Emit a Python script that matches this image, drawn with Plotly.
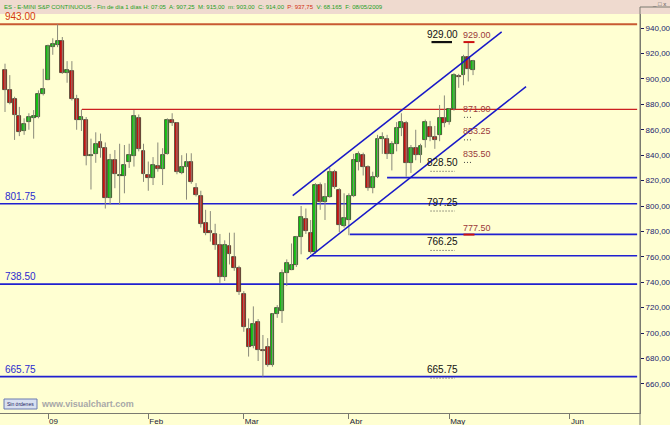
import plotly.graph_objects as go

# ---------------- data ----------------
dates = ["18/12","19/12","22/12","23/12","24/12","26/12","29/12","30/12","31/12",
         "02/01","05/01","06/01","07/01","08/01","09/01","12/01","13/01","14/01","15/01","16/01",
         "19/01","20/01","21/01","22/01","23/01","26/01","27/01","28/01","29/01","30/01",
         "02/02","03/02","04/02","05/02","06/02","09/02","10/02","11/02","12/02","13/02",
         "16/02","17/02","18/02","19/02","20/02","23/02","24/02","25/02","26/02","27/02",
         "02/03","03/03","04/03","05/03","06/03","09/03","10/03","11/03","12/03","13/03",
         "16/03","17/03","18/03","19/03","20/03","23/03","24/03","25/03","26/03","27/03",
         "30/03","31/03","01/04","02/04","03/04","06/04","07/04","08/04","09/04","13/04",
         "14/04","15/04","16/04","17/04","20/04","21/04","22/04","23/04","24/04","27/04",
         "28/04","29/04","30/04","01/05","04/05","05/05","06/05","07/05","08/05"]
opens = [907,891,884,871,859,866,869,870,888,
         899.5,925,927,930,905,906.5,884.5,868,868,839,841,
         850,846,806,836.5,824,824,835,839.5,869,843,
         824.5,822,831.5,829.5,841,868,865,826,831,834.5,
         814,808,786.5,780.5,778,769,744.5,768.5,760,751.5,
         731,703.5,690,709,687,689,675,715,717,747.5,
         750,753.5,776,790,779,764,816.5,803.5,807,827,
         812.5,784,789,808,834.5,840,831,814,823,853,
         853,841,849,861,865,834,846,840,852,862,
         854,856,869,866,876,902.5,903,917,907.25]
highs = [912,903,886,878,869,873,875.5,891,908,
         927,932,943,933,914,914,887.5,876,870,853,858,
         857,850,841,844,849,848,849,875.5,872,849,
         835,838.5,850,845.5,869,873,866,840,841.5,841.5,
         818,812,797,796,786,778,773,779,779,753,
         733,711.5,721,711,698.5,696,715.5,722,750,758,
         770.5,776.5,800,798,789,818,818.5,818,830,828.5,
         814,810,810,841,843,842,832,827,856,858,
         856,851,866,873,867,848,860,849,868,867,
         863,879.5,887,877,904.5,904,919,929,915]
lows = [874,880,852,855,856,860,853,869,887,
        899,919,925,904,897,883,860,859,832,813,834,
        838,798,801,814,801,810,830,831,843,819,
        812,816.5,827,816.5,840.5,863,825,825,805,817.5,
        807.5,783,777,772,765.5,739.5,741,754,749,730,
        701,681.5,688,678,665.75,673.5,673.5,712,708,737,
        749.5,752,762,778,762.5,762.5,797,789,806.5,813.5,
        779.5,783,777,807,828,824,812,810,822,841,
        837,828,843,855,823,826,836,834,846,851,
        845,851,862,864,875,893,895,898,903]
closes = [891,881,871.5,858.5,864.5,870,871,888,892,
          926,927.5,930,905,907,884.5,868,870,839.5,840,848.5,
          846,806,836.5,825,824.5,832,840,871,845,825,
          822,832,829.5,840,868,865,827,831,834.5,819,
          808.5,785.5,779,779,769,744.5,769,762,751.5,732.5,
          705,689,707,687,686,675,715,720,747.5,755,
          753.5,776,791,780,764,816.5,803.5,807,827,815,
          785,790.5,808,836,841,831,814,823,853,854,
          841,849,861,866,834,846,840,847,866,854.5,
          852,869,865.5,876,903,901.5,917.5,907.5,914]

month_tick_idx = [9, 30, 50, 72, 93, 118.3]
month_tick_text = ["09", "Feb", "Mar", "Abr", "May", "Jun"]

price_ticks = list(range(660, 941, 20))
price_tick_text = [f"{v},00" for v in price_ticks]

# horizontal levels: value, start index (None = from left edge)
blue_levels = [822.3, 801.75, 777.7, 760.9, 738.5, 665.75]
blue_starts = [80.0, None, 72.2, 63.9, None, None]
red_levels = [943.0, 876.0]
red_starts = [None, 16.1]

left_labels = [("943.00", 943.0, "#D43A10"), ("801.75", 801.75, "#2B2BCF"),
               ("738.50", 738.5, "#2B2BCF"), ("665.75", 665.75, "#2B2BCF")]
black_marks = [("929.00", 929.0), ("828.50", 828.5), ("797.25", 797.25),
               ("766.25", 766.25), ("665.75", 665.75)]
red_marks = [("929.00", 929.0), ("871.00", 871.0), ("853.25", 853.25),
             ("835.50", 835.5), ("777.50", 777.5)]
solid_black_marks = [929.0]
solid_red_marks = [929.0, 777.5]

# channel lines: (idx0, price0, idx1, price1)
channel_upper = [60.24, 808.1, 104.0, 937.1]
channel_lower = [63.17, 758.1, 109.1, 893.9]

X_MIN, X_MAX = -1.05, 132.96
Y_MIN, Y_MAX = 637.1, 951.1

BG = "#FFFFD2"
GREEN = "#10C810"
RED = "#CC1010"

n = len(opens)
idx = list(range(n))

fig = go.Figure()

# wicks
wx, wy = [], []
for i in idx:
    wx += [i, i, None]
    wy += [lows[i], highs[i], None]
fig.add_trace(go.Scatter(x=wx, y=wy, mode="lines", line=dict(color="#8A8A7A", width=1),
                         hoverinfo="skip", showlegend=False))

# bodies
base = [min(o, c) for o, c in zip(opens, closes)]
height = [max(abs(c - o), 0.6) for o, c in zip(opens, closes)]
colors = [GREEN if c >= o else RED for o, c in zip(opens, closes)]
fig.add_trace(go.Bar(x=idx, y=height, base=base, width=0.82,
                     marker=dict(color=colors, line=dict(color="#3A3A2A", width=0.8)),
                     hoverinfo="skip", showlegend=False))

shapes = []
for lv, st, w, c in zip(red_levels, red_starts, [2, 1.2], ["#C85A32", "#CC2020"]):
    shapes.append(dict(type="line", xref="x", yref="y", x0=X_MIN if st is None else st,
                       x1=X_MAX - 0.6, y0=lv, y1=lv, line=dict(color=c, width=w), layer="below"))
for lv, st in zip(blue_levels, blue_starts):
    shapes.append(dict(type="line", xref="x", yref="y", x0=X_MIN if st is None else st,
                       x1=X_MAX - 0.6, y0=lv, y1=lv, line=dict(color="#2020D0", width=1.6), layer="below"))
for ch in (channel_upper, channel_lower):
    shapes.append(dict(type="line", xref="x", yref="y", x0=ch[0], y0=ch[1], x1=ch[2], y1=ch[3],
                       line=dict(color="#1818C8", width=1.5)))

annotations = []
for txt, lv, col in left_labels:
    annotations.append(dict(xref="paper", yref="y", x=0.004, y=lv, text=txt, showarrow=False,
                            xanchor="left", yanchor="bottom", yshift=0,
                            font=dict(family="Arial", size=10, color=col)))
for txt, lv in black_marks:
    annotations.append(dict(xref="x", yref="y", x=91.6, y=lv, text=txt, showarrow=False,
                            xanchor="center", yanchor="bottom", yshift=0,
                            font=dict(family="Arial", size=10, color="#111111")))
    if lv in solid_black_marks:
        shapes.append(dict(type="line", xref="x", yref="y", x0=89.3, x1=93.6, y0=lv, y1=lv,
                           line=dict(color="#111111", width=2.2)))
    else:
        shapes.append(dict(type="line", xref="x", yref="y", x0=89.1, x1=94.2, y0=lv - 1.2, y1=lv - 1.2,
                           line=dict(color="#404040", width=1, dash="1px,2px")))
for txt, lv in red_marks:
    annotations.append(dict(xref="x", yref="y", x=98.9, y=lv, text=txt, showarrow=False,
                            xanchor="center", yanchor="bottom", yshift=0,
                            font=dict(family="Arial", size=9, color="#9A3A3A")))
    if lv in solid_red_marks:
        shapes.append(dict(type="line", xref="x", yref="y", x0=96.0, x1=98.3, y0=lv, y1=lv,
                           line=dict(color="#CC1010", width=2)))
    else:
        shapes.append(dict(type="line", xref="x", yref="y", x0=96.1, x1=97.9, y0=lv - 1.2, y1=lv - 1.2,
                           line=dict(color="#404040", width=1, dash="1px,2px")))

PH = 399.0
PW = 640.0
shapes.append(dict(type="rect", xref="paper", yref="paper", x0=0, x1=670 / PW, y0=1, y1=1 + 14 / PH,
                   fillcolor="#EFDACF", line=dict(width=0), layer="above"))
shapes.append(dict(type="line", xref="paper", yref="paper", x0=1, x1=1, y0=-12 / PH, y1=1 + 7 / PH,
                   line=dict(color="#7A7A70", width=1)))
shapes.append(dict(type="line", xref="paper", yref="paper", x0=1, x1=670 / PW, y0=1 + 7 / PH, y1=1 + 7 / PH,
                   line=dict(color="#7A7A70", width=1)))
shapes.append(dict(type="rect", xref="paper", yref="paper", x0=4 / PW, x1=37 / PW,
                   y0=(413 - 409) / PH, y1=(413 - 399) / PH,
                   fillcolor="#D8E0F0", line=dict(color="#6A7AB0", width=1)))

header = ('<span style="color:#1E9E1E">ES - E-MINI S&amp;P CONTINUOUS - Fin de día 1 días '
          'H: 07:05  A: 907,25  M: 915,00  m: 903,00  C: 914,00  </span>'
          '<span style="color:#D03010">P: 937,75</span>'
          '<span style="color:#1E9E1E">  V: 68.165  F: 08/05/2009</span>')
annotations.append(dict(xref="paper", yref="paper", x=2 / PW, y=1 + 7 / PH, text=header,
                        showarrow=False, xanchor="left", yanchor="middle",
                        font=dict(family="Arial", size=6, color="#1E9E1E")))
annotations.append(dict(xref="paper", yref="paper", x=668 / PW, y=1 + 10 / PH, text="_ □ x",
                        showarrow=False, xanchor="right", yanchor="middle",
                        font=dict(family="Arial", size=6, color="#555555")))
annotations.append(dict(xref="paper", yref="paper", x=20.5 / PW, y=(413 - 404) / PH, text="Sin órdenes",
                        showarrow=False, xanchor="center", yanchor="middle",
                        font=dict(family="Arial", size=5, color="#202060")))
annotations.append(dict(xref="paper", yref="paper", x=39 / PW, y=(413 - 404) / PH, text="<b>www.visualchart.com</b>",
                        showarrow=False, xanchor="left", yanchor="middle",
                        font=dict(family="Arial", size=9, color="#A8A8A8")))

fig.update_layout(
    width=670, height=425,
    margin=dict(l=0, r=30, t=14, b=12),
    paper_bgcolor=BG, plot_bgcolor=BG,
    showlegend=False, bargap=0,
    shapes=shapes, annotations=annotations,
    xaxis=dict(range=[X_MIN, X_MAX], tickvals=month_tick_idx, ticktext=month_tick_text,
               showgrid=False, zeroline=False, showline=True, linecolor="#7A7A70", linewidth=1,
               ticks="outside", ticklen=5, tickcolor="#7A7A70", ticklabelposition="outside right",
               tickfont=dict(family="Arial", size=8, color="#1A1A3A"), automargin=False, fixedrange=True),
    yaxis=dict(range=[Y_MIN, Y_MAX], side="right", tickvals=price_ticks, ticktext=price_tick_text,
               showgrid=False, zeroline=False, showline=True, linecolor="#7A7A70", linewidth=1,
               ticks="outside", ticklen=3, tickcolor="#1A1A5A",
               tickfont=dict(family="Arial", size=8, color="#1C1C6E"), automargin=False, fixedrange=True),
)

fig.write_html("out.html", config={"displayModeBar": False},
               post_script="document.body.style.margin='0px';document.body.style.overflow='hidden';")
